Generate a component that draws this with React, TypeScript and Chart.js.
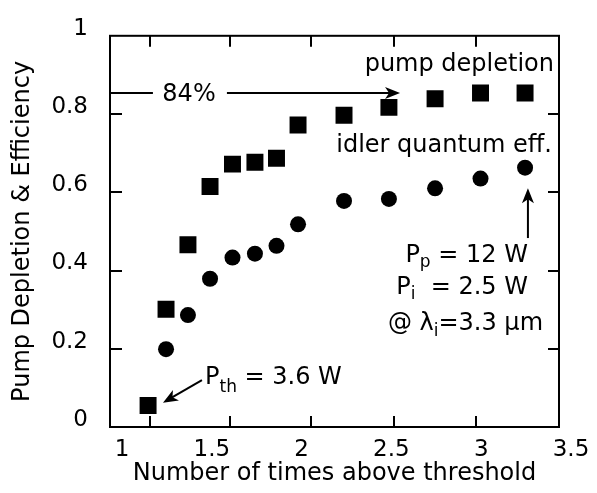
import React, { useEffect, useRef } from "react";
import { Chart, registerables } from "chart.js";

Chart.register(...registerables);

// ---- data ----
const xTickLabels = [1, 1.5, 2, 2.5, 3, 3.5];
const yTickLabels = [0, 0.2, 0.4, 0.6, 0.8, 1];
// inward tick marks of the frame (x units)
const xFrameTickMarks = [1.22, 1.67, 2.12, 2.58, 3.04];
const yFrameTickMarks = [0.2, 0.4, 0.6, 0.8];

const pumpX = [1.212, 1.312, 1.434, 1.557, 1.682, 1.807, 1.927, 2.047, 2.303, 2.553, 2.81, 3.063, 3.311];
const pumpDepletion = [0.055, 0.301, 0.466, 0.615, 0.672, 0.677, 0.687, 0.772, 0.797, 0.817, 0.839, 0.854, 0.854];

const idlerX = [1.312, 1.434, 1.557, 1.682, 1.807, 1.927, 2.047, 2.303, 2.553, 2.81, 3.063, 3.311];
const idlerEff = [0.199, 0.286, 0.379, 0.433, 0.443, 0.463, 0.518, 0.578, 0.583, 0.61, 0.635, 0.663];

const xTitle = "Number of times above threshold";
const yTitle = "Pump Depletion & Efficiency";

const FAMILY = "'DejaVu Sans', 'Liberation Sans', sans-serif";
const MAIN_FONT = `24px ${FAMILY}`;
const SUB_FONT = `17px ${FAMILY}`;

type Seg = { t: string; sub?: number };

// annotations, positioned in data units
const textNotes: { segs: Seg[]; x: number; y: number; align: "left" | "right" | "center" }[] = [
  { segs: [{ t: "pump depletion" }], x: 3.472, y: 0.909, align: "right" },
  { segs: [{ t: "idler quantum eff." }], x: 3.461, y: 0.702, align: "right" },
  { segs: [{ t: "P" }, { t: "p", sub: 5 }, { t: " = 12 W" }], x: 3.327, y: 0.421, align: "right" },
  { segs: [{ t: "P" }, { t: "i", sub: 5 }, { t: "  = 2.5 W" }], x: 3.327, y: 0.341, align: "right" },
  { segs: [{ t: "@ λ" }, { t: "i", sub: 6 }, { t: "=3.3 µm" }], x: 3.411, y: 0.247, align: "right" },
  { segs: [{ t: "P" }, { t: "th", sub: 8 }, { t: " = 3.6 W" }], x: 1.529, y: 0.11, align: "left" },
  { segs: [{ t: "84%" }], x: 1.44, y: 0.833, align: "center" },
];

const plainLines = [
  { x1: 1, y1: 0.854, x2: 1.239, y2: 0.854 },
];
const arrows = [
  { x1: 1.651, y1: 0.854, x2: 2.615, y2: 0.854 },
  { x1: 1.512, y1: 0.12, x2: 1.295, y2: 0.062 },
  { x1: 3.327, y1: 0.483, x2: 3.327, y2: 0.61 },
];

function drawRich(ctx: CanvasRenderingContext2D, segs: Seg[], px: number, py: number, align: string) {
  const widths = segs.map((s) => {
    ctx.font = s.sub ? SUB_FONT : MAIN_FONT;
    return ctx.measureText(s.t).width;
  });
  const total = widths.reduce((a, b) => a + b, 0);
  let cx = align === "right" ? px - total : align === "center" ? px - total / 2 : px;
  segs.forEach((s, i) => {
    ctx.font = s.sub ? SUB_FONT : MAIN_FONT;
    ctx.fillText(s.t, cx, py + (s.sub || 0));
    cx += widths[i];
  });
}

function drawArrow(ctx: CanvasRenderingContext2D, x1: number, y1: number, x2: number, y2: number) {
  const ang = Math.atan2(y2 - y1, x2 - x1);
  const len = 15;
  const hw = 6;
  ctx.beginPath();
  ctx.moveTo(x1, y1);
  ctx.lineTo(x2 - Math.cos(ang) * 8, y2 - Math.sin(ang) * 8);
  ctx.stroke();
  const bx = x2 - Math.cos(ang) * len;
  const by = y2 - Math.sin(ang) * len;
  const nx = x2 - Math.cos(ang) * (len - 4);
  const ny = y2 - Math.sin(ang) * (len - 4);
  ctx.beginPath();
  ctx.moveTo(x2, y2);
  ctx.lineTo(bx - Math.sin(ang) * hw, by + Math.cos(ang) * hw);
  ctx.lineTo(nx, ny);
  ctx.lineTo(bx + Math.sin(ang) * hw, by - Math.cos(ang) * hw);
  ctx.closePath();
  ctx.fill();
}

const framePlugin = {
  id: "frame",
  beforeDatasetsDraw(chart: any) {
    const { ctx, chartArea, scales } = chart;
    const { left, right, top, bottom } = chartArea;
    const x = scales.x;
    const y = scales.y;
    ctx.save();
    ctx.strokeStyle = "#000";
    ctx.lineWidth = 2;
    ctx.strokeRect(left, top, right - left, bottom - top);
    ctx.beginPath();
    xFrameTickMarks.forEach((v) => {
      const px = Math.round(x.getPixelForValue(v));
      ctx.moveTo(px, bottom);
      ctx.lineTo(px, bottom - 11);
      ctx.moveTo(px, top);
      ctx.lineTo(px, top + 11);
    });
    yFrameTickMarks.forEach((v) => {
      const py = Math.round(y.getPixelForValue(v));
      ctx.moveTo(left, py);
      ctx.lineTo(left + 12, py);
      ctx.moveTo(right, py);
      ctx.lineTo(right - 11, py);
    });
    ctx.stroke();
    ctx.restore();
  },
  afterDatasetsDraw(chart: any) {
    const { ctx, scales } = chart;
    const x = scales.x;
    const y = scales.y;
    ctx.save();
    ctx.fillStyle = "#000";
    ctx.strokeStyle = "#000";
    ctx.lineWidth = 2;
    ctx.textBaseline = "alphabetic";
    ctx.textAlign = "left";
    textNotes.forEach((n) => {
      drawRich(ctx, n.segs, x.getPixelForValue(n.x), y.getPixelForValue(n.y), n.align);
    });
    plainLines.forEach((l) => {
      ctx.beginPath();
      ctx.moveTo(x.getPixelForValue(l.x1), y.getPixelForValue(l.y1));
      ctx.lineTo(x.getPixelForValue(l.x2), y.getPixelForValue(l.y2));
      ctx.stroke();
    });
    arrows.forEach((a) => {
      drawArrow(
        ctx,
        x.getPixelForValue(a.x1),
        y.getPixelForValue(a.y1),
        x.getPixelForValue(a.x2),
        y.getPixelForValue(a.y2)
      );
    });
    ctx.restore();
  },
};

export default function App() {
  const ref = useRef<HTMLCanvasElement | null>(null);

  useEffect(() => {
    document.body.style.margin = "0";
    const canvas = ref.current;
    if (!canvas) return;
    Chart.defaults.font.family = FAMILY;
    Chart.defaults.color = "#000";

    const chart = new Chart(canvas, {
      type: "scatter",
      data: {
        datasets: [
          {
            label: "pump depletion",
            data: pumpX.map((v, i) => ({ x: v, y: pumpDepletion[i] })),
            pointStyle: "rect",
            pointRadius: 12,
            pointHoverRadius: 12,
            backgroundColor: "#000",
            borderColor: "#000",
            borderWidth: 0,
          },
          {
            label: "idler quantum eff.",
            data: idlerX.map((v, i) => ({ x: v, y: idlerEff[i] })),
            pointStyle: "circle",
            pointRadius: 8,
            pointHoverRadius: 8,
            backgroundColor: "#000",
            borderColor: "#000",
            borderWidth: 0,
          },
        ],
      },
      options: {
        responsive: false,
        animation: false,
        devicePixelRatio: 1,
        layout: { padding: { left: 0, top: 25.5, right: 38, bottom: 0 } },
        plugins: {
          legend: { display: false },
          tooltip: { enabled: false },
        },
        scales: {
          x: {
            type: "linear",
            min: 1,
            max: 3.5,
            afterBuildTicks: (s: any) => {
              s.ticks = xTickLabels.map((v) => ({ value: v }));
            },
            afterFit: (s: any) => {
              s.height = 66;
            },
            grid: { display: false, drawTicks: false },
            border: { display: false },
            ticks: {
              color: "#000",
              font: { family: FAMILY, size: 23 },
              padding: 9,
              labelOffset: 12,
              maxRotation: 0,
              autoSkip: false,
              callback: (v: any) => String(v),
            },
            title: {
              display: true,
              text: xTitle,
              color: "#000",
              font: { family: FAMILY, size: 24 },
              padding: { top: 0, bottom: 5 },
            },
          },
          y: {
            type: "linear",
            min: 0,
            max: 1,
            afterBuildTicks: (s: any) => {
              s.ticks = yTickLabels.map((v) => ({ value: v }));
            },
            afterFit: (s: any) => {
              s.width = 110;
            },
            grid: { display: false, drawTicks: false },
            border: { display: false },
            ticks: {
              color: "#000",
              font: { family: FAMILY, size: 23 },
              padding: 22,
              labelOffset: -7,
              autoSkip: false,
              callback: (v: any) => String(v),
            },
            title: {
              display: true,
              text: yTitle,
              color: "#000",
              font: { family: FAMILY, size: 24 },
              padding: { top: 8, bottom: 0 },
            },
          },
        },
      } as any,
      plugins: [framePlugin],
    });

    return () => chart.destroy();
  }, []);

  return (
    <canvas
      ref={ref}
      width={597}
      height={493}
      style={{ display: "block", width: 597, height: 493 }}
    />
  );
}
